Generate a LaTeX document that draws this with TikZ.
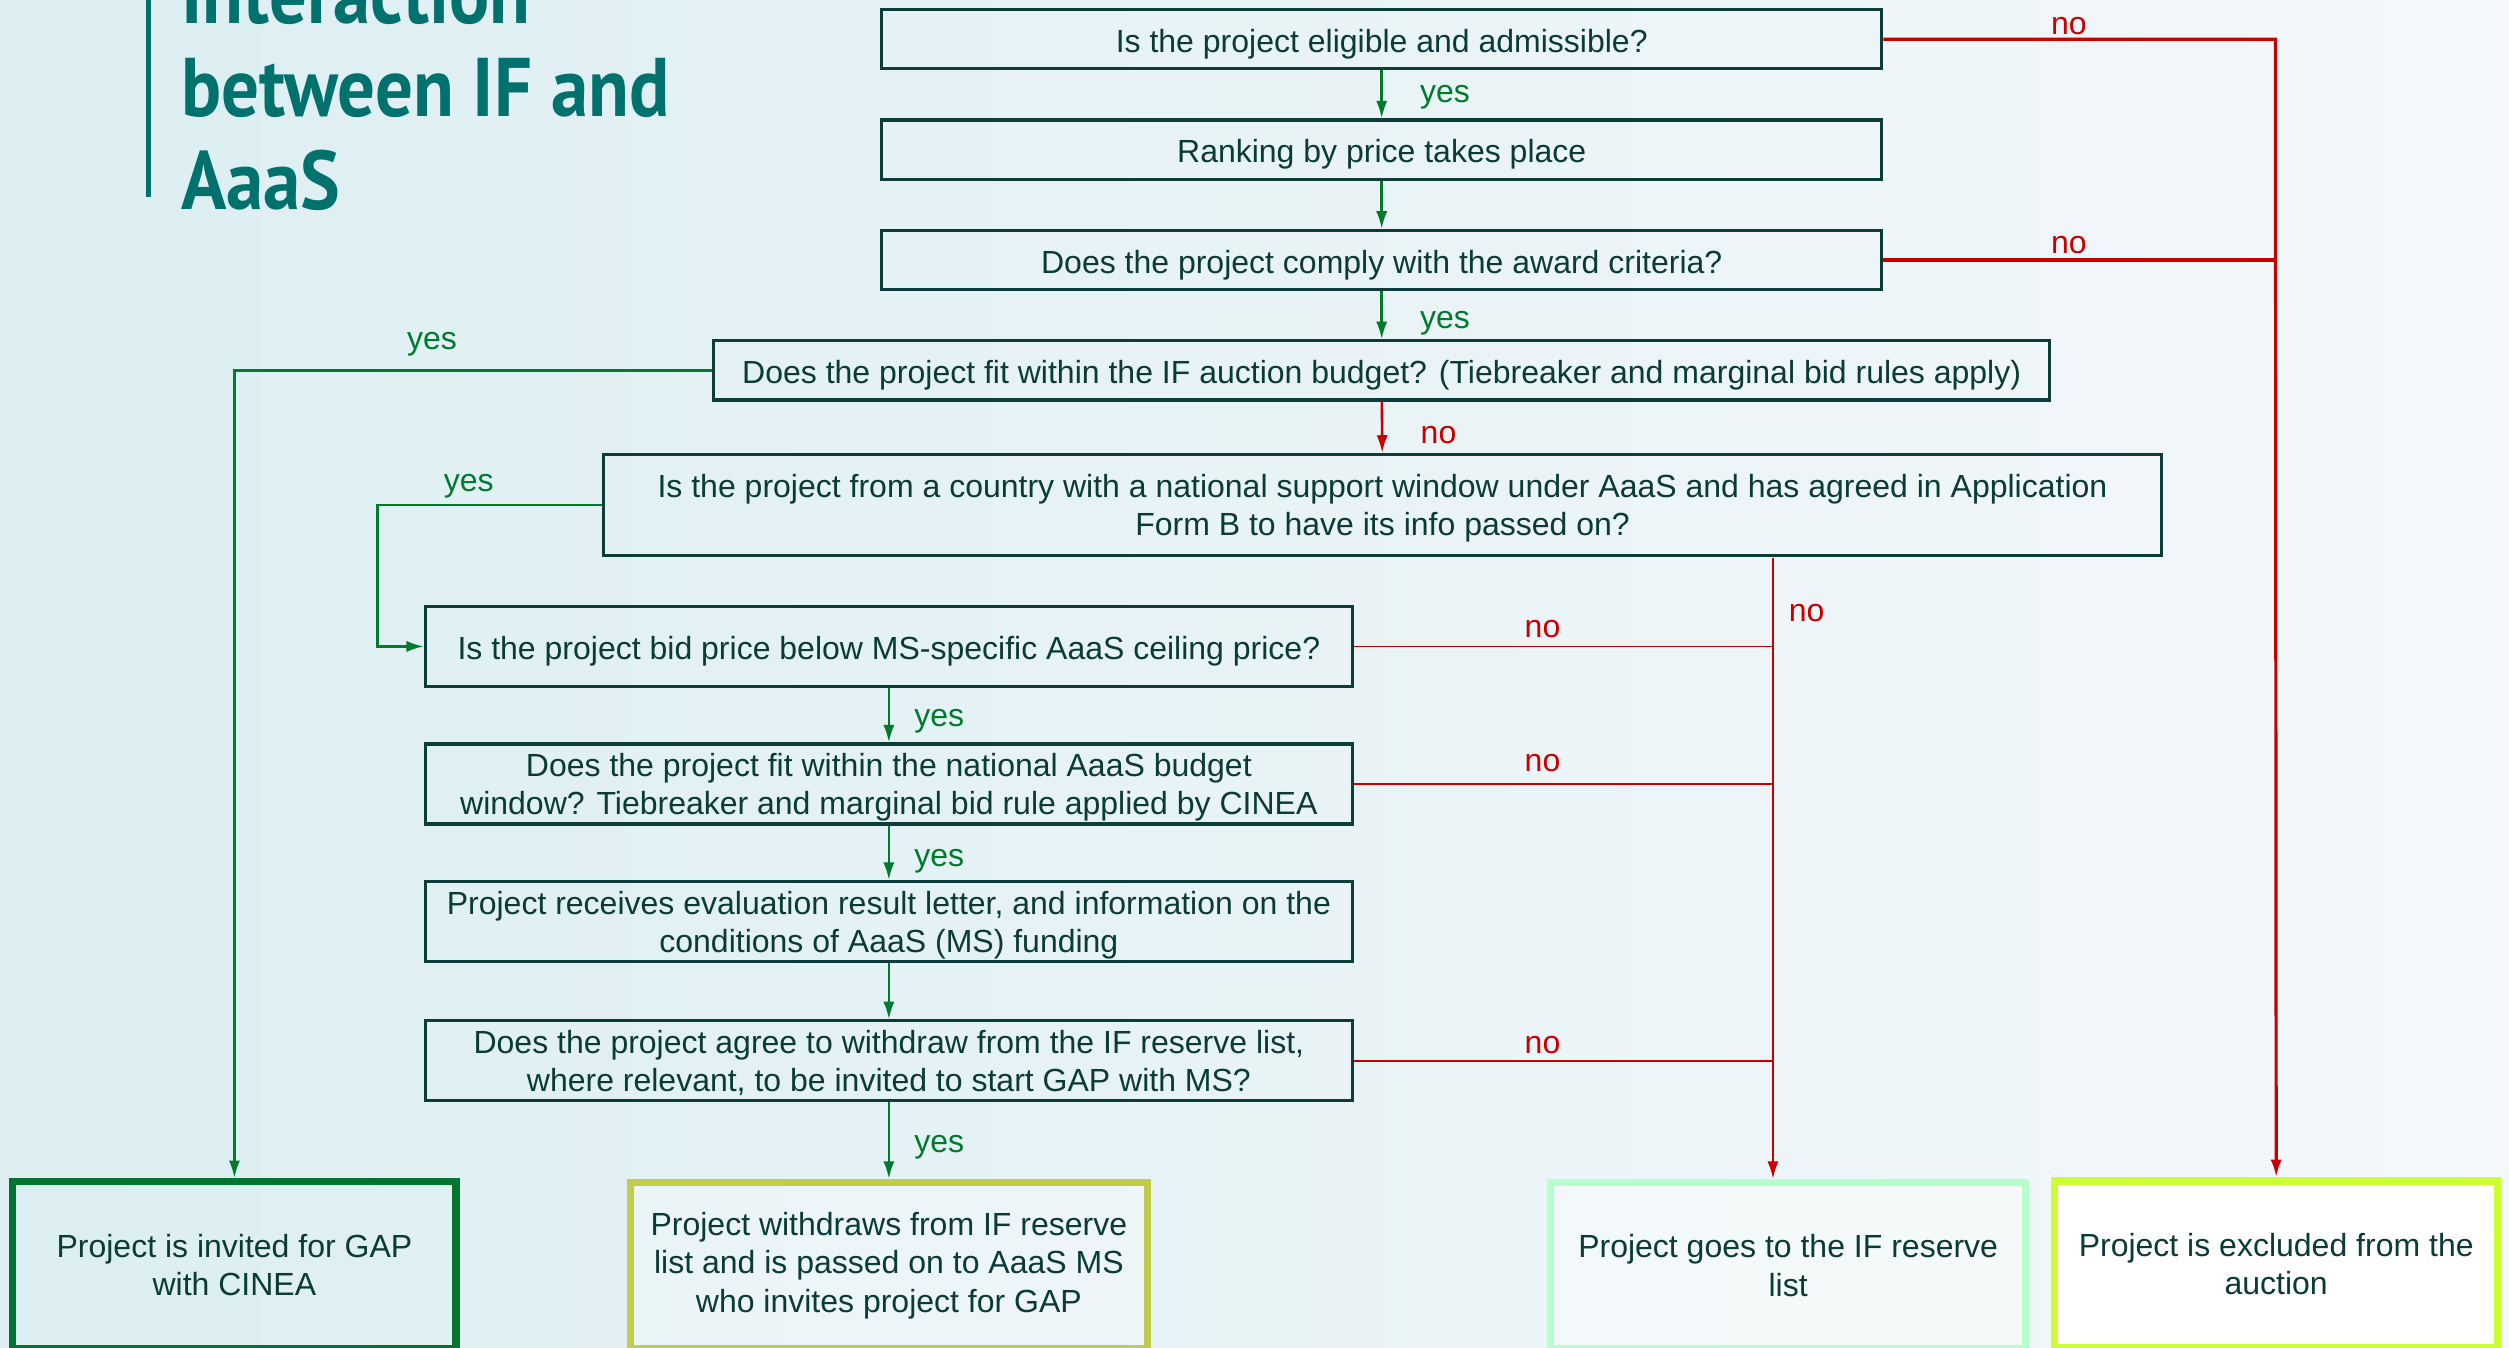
\documentclass[tikz,border=0pt]{standalone}
\usepackage{fontspec}
\setmainfont{Liberation Sans}
\newfontfamily\titlefont{PT Sans}
\usetikzlibrary{arrows.meta}
\definecolor{bgL}{HTML}{DCEEF2}
\definecolor{bgR}{HTML}{F4F8FA}
\definecolor{boxline}{HTML}{0D3D3A}
\definecolor{txt}{HTML}{0B3B36}
\definecolor{gr}{HTML}{007A2C}
\definecolor{rd}{HTML}{C80000}
\definecolor{teal}{HTML}{00716D}
\definecolor{bA}{HTML}{00752E}
\definecolor{bB}{HTML}{C0CC4A}
\definecolor{bC}{HTML}{B4FFCA}
\definecolor{bD}{HTML}{CCFF33}
\newcommand{\lowtext}[1]{\raisebox{-2.5pt}[\height][\depth]{\begin{tabular}{@{}c@{}}#1\end{tabular}}}
\begin{document}
\begin{tikzpicture}[x=1pt,y=-1pt,
  qbox/.style={draw=boxline, line width=2pt, inner sep=0pt, text=txt,
    font=\fontsize{20}{24}\selectfont, align=center},
  onel/.style={execute at begin node={\rule{0pt}{20.5pt}}},
  endbox/.style={line width=4.5pt, inner sep=0pt, text=txt,
    font=\fontsize{20}{24}\selectfont, align=center, minimum height=104pt},
  yeslbl/.style={text=gr, font=\fontsize{20}{24}\selectfont, inner sep=0pt},
  nolbl/.style={text=rd, font=\fontsize{20}{24}\selectfont, inner sep=0pt},
  garrow/.style={draw=gr, line width=1.6pt, -{Latex[length=11pt,width=7pt]}},
  rarrow/.style={draw=rd, line width=1.8pt, -{Latex[length=11pt,width=7pt]}},
  rline/.style={draw=rd, line width=1pt},
  titletxt/.style={text=teal, inner sep=0pt, anchor=base west,
    font=\titlefont\bfseries\fontsize{52}{58}\selectfont}
]
\path[use as bounding box] (0,0) rectangle (1568,842);
\clip (0,0) rectangle (1568,842);
\shade[left color=bgL, right color=bgR] (0,0) rectangle (1568,842);

% title
\fill[teal] (91.5,0) rectangle (94.5,123);
\node[titletxt] (t1) at (113,15) {\scalebox{0.9}[1]{Interaction}};
\node[titletxt] (t2) at (113,73) {\scalebox{0.9}[1]{between IF and}};
\node[titletxt] (t3) at (113,131) {\scalebox{0.9}[1]{AaaS}};

% question boxes
\node[qbox, onel, minimum width=625pt, minimum height=37pt] (q1) at (863.5,24.5) {Is the project eligible and admissible?};
\node[qbox, onel, minimum width=625pt, minimum height=37pt] (q2) at (863.5,93.5) {Ranking by price takes place};
\node[qbox, onel, minimum width=625pt, minimum height=37pt] (q3) at (863.5,162.5) {Does the project comply with the award criteria?};
\node[qbox, onel, minimum width=835pt, minimum height=37pt] (q4) at (863.5,231.5) {Does the project fit within the IF auction budget? (Tiebreaker and marginal bid rules apply)};
\node[qbox, minimum width=974pt, minimum height=63pt] (q5) at (864,315.5) {\lowtext{Is the project from a country with a national support window under AaaS and has agreed in Application\\Form B to have its info passed on?}};
\node[qbox, onel, minimum width=579pt, minimum height=50pt] (q6) at (555.5,404) {Is the project bid price below MS-specific AaaS ceiling price?};
\node[qbox, minimum width=579pt, minimum height=50pt] (q7) at (555.5,490) {\lowtext{Does the project fit within the national AaaS budget\\window? Tiebreaker and marginal bid rule applied by CINEA}};
\node[qbox, minimum width=579pt, minimum height=50pt] (q8) at (555.5,576) {\lowtext{Project receives evaluation result letter, and information on the\\conditions of AaaS (MS) funding}};
\node[qbox, minimum width=579pt, minimum height=50pt] (q9) at (555.5,663) {\lowtext{Does the project agree to withdraw from the IF reserve list,\\where relevant, to be invited to start GAP with MS?}};

% end boxes
\node[endbox, draw=bA, minimum width=277pt] (e1) at (146.5,790.5) {Project is invited for GAP\\with CINEA};
\node[endbox, draw=bB, fill=white, fill opacity=0.3, text opacity=1, minimum width=323pt] (e2) at (555.5,791) {Project withdraws from IF reserve\\list and is passed on to AaaS MS\\who invites project for GAP};
\node[endbox, draw=bC, fill=white, fill opacity=0.4, text opacity=1, minimum width=297pt] (e3) at (1117.5,791) {Project goes to the IF reserve\\list};
\node[endbox, draw=bD, fill=white, minimum width=277pt] (e4) at (1422.5,790) {Project is excluded from the\\auction};

% coordinates
\coordinate (rr) at (1422,24.5);
\coordinate (rm) at (1108,349);
\coordinate (gl) at (146.5,231.5);
\coordinate (gm) at (236,315.5);

% main chain
\draw[garrow] (q1) -- (q2);
\draw[garrow] (q2) -- (q3);
\draw[garrow] (q3) -- (q4);
\draw[rarrow, line width=1.6pt] (q4) -- (q5);
\draw[garrow] (q6) -- (q7);
\draw[garrow] (q7) -- (q8);
\draw[garrow] (q8) -- (q9);
\draw[garrow] (q9) -- (e2);

% right red line
\draw[rarrow, line width=2pt] (q1.east) -- (rr) -- (e4.north);
\draw[draw=rd, line width=2pt] (q3.east) -- (q3.east -| rr);

% middle red line
\draw[rarrow, line width=1.5pt] (rm) -- (e3.north -| rm);
\draw[rline] (q6.east) -- (q6.east -| rm);
\draw[rline] (q7.east) -- (q7.east -| rm);
\draw[rline] (q9.east) -- (q9.east -| rm);

% green left lines
\draw[garrow] (q4.west) -- (gl) -- (e1.north);
\draw[garrow] (q5.west) -- (gm) |- (q6.west);

% labels
\node[nolbl] (n1) at (1293,16) {no};
\node[yeslbl] (y1) at (903,61) {yes};
\node[nolbl] (n2) at (1293,153) {no};
\node[yeslbl] (y2) at (903,202) {yes};
\node[yeslbl] (y3) at (270,215) {yes};
\node[nolbl] (n3) at (899,272) {no};
\node[yeslbl] (y4) at (293,304) {yes};
\node[nolbl] (n4) at (1129,383) {no};
\node[nolbl] (n5) at (964,393) {no};
\node[yeslbl] (y5) at (587,451) {yes};
\node[nolbl] (n6) at (964,477) {no};
\node[yeslbl] (y6) at (587,538) {yes};
\node[nolbl] (n7) at (964,653) {no};
\node[yeslbl] (y7) at (587,717) {yes};
\end{tikzpicture}
\end{document}
